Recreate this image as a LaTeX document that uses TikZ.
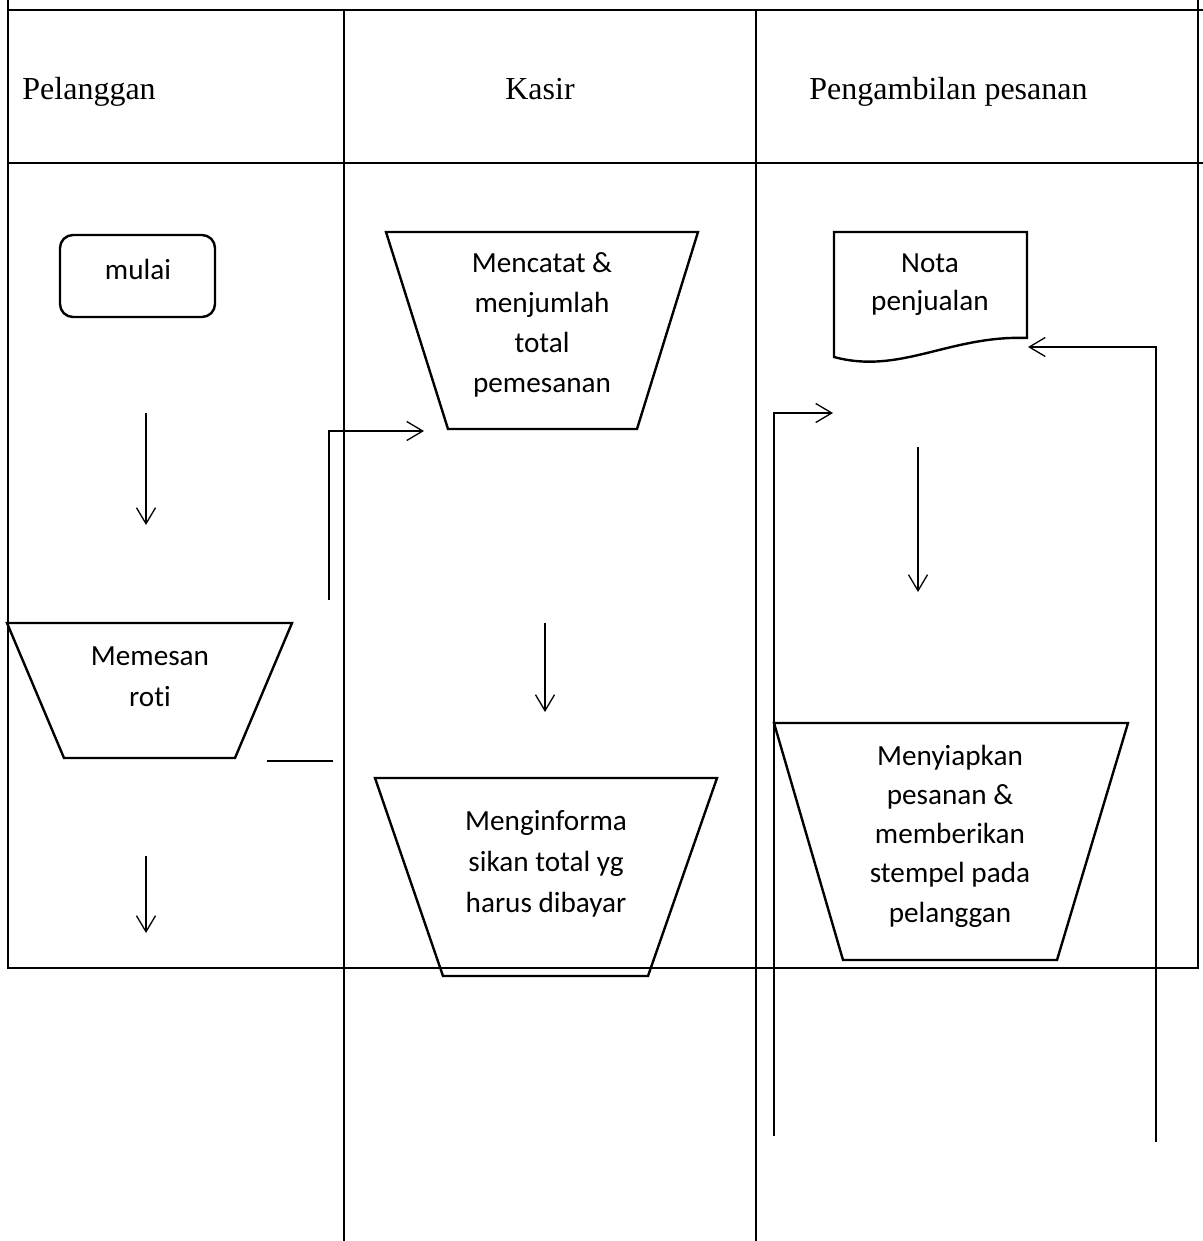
\documentclass[tikz,border=0pt]{standalone}
\usepackage{fontspec}
\setmainfont{Liberation Serif}
\newfontfamily\bodyfont[Ligatures=NoCommon]{Carlito}
\usetikzlibrary{arrows.meta}
\begin{document}
\begin{tikzpicture}[x=0.5pt,y=-0.5pt,
  frame/.style={line width=1.1pt},
  lane/.style={line width=0.7pt},
  shapeline/.style={line width=1.2pt, line join=miter},
  flow/.style={line width=0.65pt},
  flowarrow/.style={flow, -{Straight Barb[length=8pt,width=9.5pt,line width=0.65pt]}},
  head/.style={font=\fontsize{16}{19}\selectfont, inner sep=0pt},
  % multi-line labels: the base anchor sits on the last line
  body/.style={font=\bodyfont\fontsize{14.6}{#1}\selectfont, align=center, inner sep=0pt, anchor=base},
  body/.default=20pt
]
\useasboundingbox (0,0) rectangle (1203,1241);

% swimlane frame
\draw[frame] (8,0) -- (8,968) -- (1198,968) -- (1198,0);
\draw[frame] (8,10) -- (1203,10);
\draw[frame] (8,163) -- (1203,163);
\draw[lane] (344,10) -- (344,1241);
\draw[lane] (756,10) -- (756,1241);

% lane titles
\node[head, anchor=base west] (hpel) at (22,100) {Pelanggan};
\node[head, anchor=base] (hkas) at (540,100) {Kasir};
\node[head, anchor=base west] (hamb) at (809,100) {Pengambilan pesanan};

% shapes
\draw[shapeline, rounded corners=6.5pt] (60,235) rectangle (215,317);
\node[body] (mulai) at (138,279) {mulai};

\draw[shapeline] (7,623) -- (292,623) -- (235,758) -- (64,758) -- cycle;
\node[body=20.5pt] (pesan) at (150,706) {Memesan\\roti};

\draw[shapeline] (386,232) -- (698,232) -- (637,429) -- (448,429) -- cycle;
\node[body=20pt] (catat) at (542,392) {Mencatat \&\\menjumlah\\total\\pemesanan};

\draw[shapeline] (375,778) -- (717,778) -- (648,976) -- (443,976) -- cycle;
\node[body=20.5pt] (info) at (546,912) {Menginforma\\sikan total yg\\harus dibayar};

\draw[shapeline] (834,232) -- (1027,232) -- (1027,338)
  .. controls (950,335) and (900,375) .. (834,357) -- cycle;
\node[body=19pt] (nota) at (930,310) {Nota\\penjualan};

\draw[shapeline] (774,723) -- (1128,723) -- (1057,960) -- (843,960) -- cycle;
\node[body=19.6pt] (siap) at (950,922) {Menyiapkan\\pesanan \&\\memberikan\\stempel pada\\pelanggan};

% connector end points
\coordinate (a1s) at (146,413); \coordinate (a1e) at (146,525);
\coordinate (a2s) at (329,600); \coordinate (a2c) at (329,431); \coordinate (a2e) at (424,431);
\coordinate (l3s) at (267,761); \coordinate (l3e) at (333,761);
\coordinate (a4s) at (146,856); \coordinate (a4e) at (146,933);
\coordinate (a5s) at (545,623); \coordinate (a5e) at (545,712);
\coordinate (a6s) at (774,1136); \coordinate (a6c) at (774,413); \coordinate (a6e) at (833,413);
\coordinate (a7s) at (918,447); \coordinate (a7e) at (918,592);
\coordinate (a8s) at (1156,1142); \coordinate (a8c) at (1156,347); \coordinate (a8e) at (1028,347);

% connectors
\draw[flowarrow] (a1s) -- (a1e);
\draw[flowarrow] (a2s) -- (a2c) -- (a2e);
\draw[flow] (l3s) -- (l3e);
\draw[flowarrow] (a4s) -- (a4e);
\draw[flowarrow] (a5s) -- (a5e);
\draw[flowarrow] (a6s) -- (a6c) -- (a6e);
\draw[flowarrow] (a7s) -- (a7e);
\draw[flowarrow] (a8s) -- (a8c) -- (a8e);
\end{tikzpicture}
\end{document}
